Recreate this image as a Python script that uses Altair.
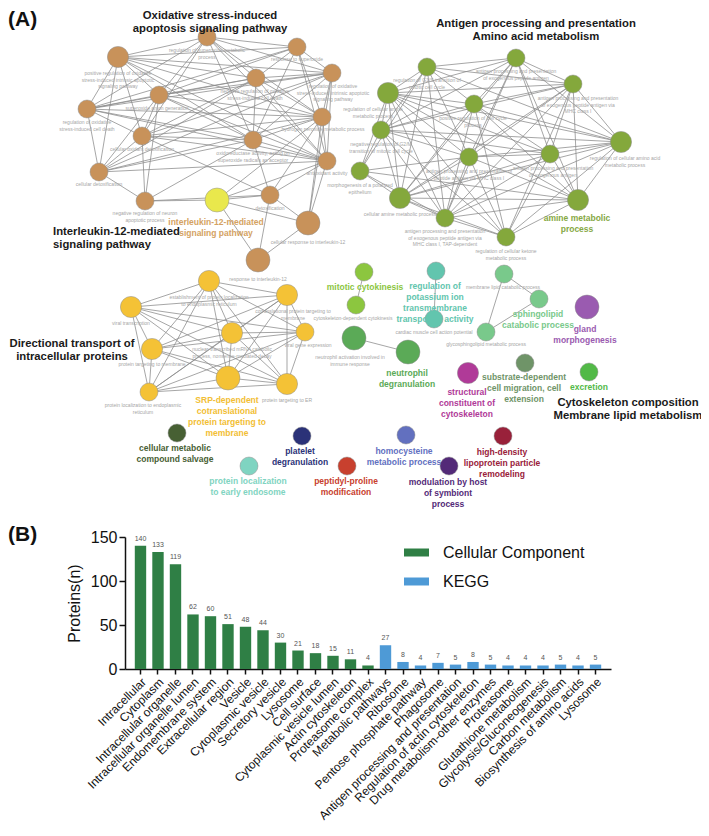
import json
import altair as alt
import pandas as pd

FONT = "Liberation Sans"

# ================= Panel A : enrichment network =================
# node layout coordinates (image pixels)
node_id = ["b0", "b1", "b2", "b3", "b4", "b5", "b6", "b7", "b8", "b9", "b10", "b11", "b12", "b13", "b14", "b15",
           "y0", "y1", "y2", "y3", "y4", "y5", "y6", "y7", "y8", "y9",
           "g0", "g1", "g2", "g3", "g4", "g5", "g6", "g7", "g8", "g9", "g10", "g11", "g12", "g13",
           "m0", "m1", "p0", "p1", "s0", "s1", "s2", "n0", "n1",
           "gland", "struct", "subst", "excr", "salv", "endo", "plat", "pept", "homo", "modu", "hdl"]
node_x = [207, 118, 297, 256, 332, 159, 87, 322, 142, 253, 327, 99, 145, 270, 308, 258,
          217, 209, 131, 287, 232, 305, 152, 228, 287, 149,
          516, 427, 388, 573, 474, 381, 621, 469, 550, 360, 400, 578, 445, 506,
          364, 356, 436, 434, 504, 539, 486, 354, 408,
          587, 468, 525, 589, 177, 249, 302, 347, 406, 449, 503]
node_y = [37, 57, 47, 78, 73, 95, 109, 117, 136, 140, 161, 172, 201, 195, 223, 260,
          200, 281, 307, 295, 333, 332, 349, 378, 384, 392,
          58, 67, 93, 84, 104, 130, 142, 157, 154, 171, 198, 200, 218, 237,
          272, 305, 271, 319, 274, 299, 332, 338, 352,
          307, 373, 363, 372, 433, 466, 436, 466, 435, 466, 436]
node_level = [1, 2, 1, 1, 1, 1, 1, 1, 1, 1, 1, 1, 1, 1, 3, 3,
              3, 2, 2, 2, 2, 1, 2, 3, 2, 1,
              1, 1, 2, 1, 1, 1, 2, 1, 1, 1, 2, 2, 1, 1,
              1, 1, 1, 1, 1, 1, 1, 3, 3,
              3, 2, 1, 1, 1, 1, 1, 1, 1, 1, 1]
node_group = ["oxid"] * 16 + ["il12"] + ["srp"] * 9 + ["amine"] * 14 + \
             ["mitotic", "mitotic", "potassium", "potassium", "sphingo", "sphingo", "sphingo", "neutro", "neutro",
              "gland", "struct", "subst", "excr", "salv", "endo", "plat", "pept", "homo", "modu", "hdl"]

group_color = {
    "oxid": "#C8925A", "il12": "#E9E84C", "srp": "#F4C236", "amine": "#84A83C",
    "mitotic": "#8CC63F", "potassium": "#62C5AE", "sphingo": "#79C98B", "neutro": "#5BAA57",
    "gland": "#9A5BB0", "struct": "#B03A98", "subst": "#6F9468", "excr": "#52B947",
    "salv": "#476033", "endo": "#7FD4C1", "plat": "#2B3278", "pept": "#C8402E",
    "homo": "#6270BF", "modu": "#532A78", "hdl": "#99213A",
}
label_color = dict(group_color)
label_color.update({"il12": "#D4A262", "srp": "#F2BE34", "amine": "#86A843"})

edge_list = (
    # oxidative stress cluster
    "b0-b1 b0-b2 b0-b3 b0-b4 b0-b5 b0-b6 b0-b7 b0-b8 b0-b9 b0-b10 "
    "b1-b2 b1-b3 b1-b4 b1-b5 b1-b6 b1-b7 b1-b8 b1-b9 b1-b10 b1-b11 "
    "b2-b3 b2-b4 b2-b5 b2-b6 b2-b7 b2-b9 b2-b10 "
    "b3-b4 b3-b5 b3-b6 b3-b7 b3-b8 b3-b9 b3-b10 b3-b11 "
    "b4-b5 b4-b6 b4-b7 b4-b8 b4-b9 b4-b10 b4-b11 "
    "b5-b6 b5-b7 b5-b8 b5-b9 b5-b10 b5-b11 b5-b12 "
    "b6-b7 b6-b8 b6-b9 b6-b10 b6-b11 "
    "b7-b8 b7-b9 b7-b10 b7-b11 b7-b13 "
    "b8-b9 b8-b10 b8-b11 b8-b12 b8-b13 "
    "b9-b10 b9-b11 b9-b12 b9-b13 b10-b11 b10-b13 b10-b14 b11-b12 "
    "b12-y0 b12-b13 b13-y0 b13-b14 b13-b15 y0-b14 y0-b15 y0-b7 y0-b10 b14-b15 b14-b7 b14-b4 "
    # translation cluster
    "y1-y2 y1-y3 y1-y4 y1-y5 y1-y6 y1-y7 y1-y8 y1-y9 y2-y3 y2-y4 y2-y5 y2-y6 y2-y7 y2-y8 y2-y9 "
    "y3-y4 y3-y5 y3-y6 y3-y7 y3-y8 y3-y9 y4-y5 y4-y6 y4-y7 y4-y8 y4-y9 y5-y6 y5-y7 y5-y8 y5-y9 "
    "y6-y7 y6-y8 y6-y9 y7-y8 y7-y9 y8-y9 "
    # antigen / amine cluster
    "g0-g1 g0-g2 g0-g3 g0-g4 g0-g5 g0-g6 g0-g7 g0-g8 g0-g10 g0-g12 g0-g11 "
    "g1-g2 g1-g3 g1-g4 g1-g5 g1-g6 g1-g7 g1-g10 g1-g12 g1-g9 "
    "g2-g3 g2-g4 g2-g5 g2-g6 g2-g7 g2-g8 g2-g9 g2-g10 g2-g12 g2-g13 g2-g11 "
    "g3-g4 g3-g5 g3-g6 g3-g7 g3-g8 g3-g10 g3-g11 g3-g12 g3-g13 "
    "g4-g5 g4-g6 g4-g8 g4-g10 g4-g12 g4-g13 g4-g11 "
    "g5-g6 g5-g7 g5-g8 g5-g9 g5-g10 g5-g12 g5-g13 "
    "g6-g7 g6-g8 g6-g10 g6-g11 g6-g12 g6-g13 "
    "g7-g8 g7-g9 g7-g10 g7-g11 g7-g12 g7-g13 "
    "g8-g10 g8-g11 g8-g12 g8-g13 g9-g10 g9-g12 g9-g11 g10-g11 g10-g12 g10-g13 g11-g12 g11-g13 g12-g13 "
    # small modules
    "m0-m1 p0-p1 s0-s1 s0-s2 s1-s2 n0-n1"
)

# small grey term labels
term_text = [
    "regulation of superoxide metabolic\nprocess",
    "positive regulation of oxidative\nstress-induced intrinsic apoptotic\nsignaling pathway",
    "response to superoxide",
    "negative regulation of oxidative\nstress-induced cell death",
    "regulation of oxidative\nstress-induced intrinsic apoptotic\nsignaling pathway",
    "superoxide anion generation",
    "regulation of oxidative\nstress-induced cell death",
    "hydrogen peroxide metabolic process",
    "cellular oxidant detoxification",
    "oxidoreductase activity, acting on\nsuperoxide radicals as acceptor",
    "antioxidant activity",
    "cellular detoxification",
    "negative regulation of neuron\napoptotic process",
    "detoxification",
    "cellular response to interleukin-12",
    "response to interleukin-12",
    "establishment of protein localization\nto endoplasmic reticulum",
    "viral transcription",
    "cotranslational protein targeting to\nmembrane",
    "nuclear-transcribed mRNA catabolic\nprocess, nonsense-mediated decay",
    "viral gene expression",
    "protein targeting to membrane",
    "protein targeting to ER",
    "protein localization to endoplasmic\nreticulum",
    "antigen processing and presentation\nof exogenous peptide antigen",
    "regulation of G1/S transition of\nmitotic cell cycle",
    "regulation of cellular amine\nmetabolic process",
    "antigen processing and presentation\nof exogenous peptide antigen via\nMHC class I",
    "positive regulation of cell cycle\nprocess",
    "negative regulation of G2/M\ntransition of mitotic cell cycle",
    "regulation of cellular amino acid\nmetabolic process",
    "antigen processing and presentation of\npeptide antigen via MHC class I",
    "antigen processing and presentation\nof exogenous antigen",
    "morphogenesis of a polarized\nepithelium",
    "cellular amine metabolic process",
    "antigen processing and presentation\nof exogenous peptide antigen via\nMHC class I, TAP-dependent",
    "regulation of cellular ketone\nmetabolic process",
    "cytoskeleton-dependent cytokinesis",
    "cardiac muscle cell action potential",
    "membrane lipid catabolic process",
    "glycosphingolipid metabolic process",
    "neutrophil activation involved in\nimmune response",
]
term_x = [207, 118, 297, 255, 333, 157, 87, 323, 142, 253, 327, 99, 145, 270, 308, 258,
          209, 131, 293, 232, 308, 152, 287, 143,
          516, 427, 373, 578, 473, 381, 625, 469, 553, 360, 400, 445, 506,
          353, 434, 503, 486, 350]
term_y = [50, 73, 59, 91, 86, 108, 122, 129, 149, 153, 173, 184, 213, 208, 242, 279,
          297, 323, 311, 349, 345, 364, 400, 405,
          71, 80, 109, 98, 118, 144, 158, 171, 168, 185, 214, 231, 251,
          318, 332, 287, 344, 357]

# bold coloured module labels
module_text = [
    "interleukin-12-mediated\nsignaling pathway",
    "SRP-dependent\ncotranslational\nprotein targeting to\nmembrane",
    "amine metabolic\nprocess",
    "mitotic cytokinesis",
    "regulation of\npotassium ion\ntransmembrane\ntransporter activity",
    "sphingolipid\ncatabolic process",
    "gland\nmorphogenesis",
    "neutrophil\ndegranulation",
    "structural\nconstituent of\ncytoskeleton",
    "substrate-dependent\ncell migration, cell\nextension",
    "excretion",
    "cellular metabolic\ncompound salvage",
    "platelet\ndegranulation",
    "protein localization\nto early endosome",
    "peptidyl-proline\nmodification",
    "homocysteine\nmetabolic process",
    "modulation by host\nof symbiont\nprocess",
    "high-density\nlipoprotein particle\nremodeling",
]
module_x = [216, 227, 577, 365, 435, 538, 585, 407, 467, 524, 589, 175, 300, 248, 346, 404, 448, 502]
module_y = [222, 400, 218, 287, 286, 314, 329, 373, 392, 377, 387, 448, 451, 481, 481, 451, 482, 452]
module_group = ["il12", "srp", "amine", "mitotic", "potassium", "sphingo", "gland", "neutro", "struct",
                "subst", "excr", "salv", "plat", "endo", "pept", "homo", "modu", "hdl"]

# bold black cluster titles
title_text = [
    "Oxidative stress-induced\napoptosis signaling pathway",
    "Antigen processing and presentation\nAmino acid metabolism",
    "Directional transport of\nintracellular proteins",
    "Cytoskeleton composition\nMembrane lipid metabolism",
]
title_x = [210, 536, 72, 628]
title_y = [16, 24, 344, 403]
left_title_text = ["Interleukin-12-mediated\nsignaling pathway"]
left_title_x = [53]
left_title_y = [232]

panel_text = ["(A)", "(B)"]
panel_x = [8, 8]
panel_y = [20, 535]

# ================= Panel B : bar chart =================
cc_terms = ["Intracellular", "Cytoplasm", "Intracellular organelle", "Intracellular organelle lumen",
            "Endomembrane system", "Extracellular region", "Vesicle", "Cytoplasmic vesicle",
            "Secretory vesicle", "Lysosome", "Cell surface", "Cytoplasmic vesicle lumen",
            "Actin cytoskeleton", "Proteasome complex"]
cc_counts = [140, 133, 119, 62, 60, 51, 48, 44, 30, 21, 18, 15, 11, 4]
kegg_terms = ["Metabolic pathways", "Ribosome", "Pentose phosphate pathway", "Phagosome",
              "Antigen processing and presentation", "Regulation of actin cytoskeleton",
              "Drug metabolism-other enzymes", "Proteasome", "Glutathione metabolism",
              "Glycolysis/Gluconeogenesis", "Carbon metabolism", "Biosynthesis of amino acids", "Lysosome"]
kegg_counts = [27, 8, 4, 7, 5, 8, 5, 4, 4, 4, 5, 4, 5]
y_ticks = [0, 50, 100, 150]
series_names = ["Cellular Component", "KEGG"]
series_colors = ["#2F7F45", "#4E9AD6"]

# ---------------- build tables ----------------
nodes = pd.DataFrame({"id": node_id, "x": node_x, "y": node_y, "level": node_level, "group": node_group})
nodes["color"] = nodes["group"].map(group_color)
pos = nodes.set_index("id")
edges = pd.DataFrame([e.split("-") for e in edge_list.split()], columns=["a", "b"])
edges["x"] = edges["a"].map(pos["x"])
edges["y"] = edges["a"].map(pos["y"])
edges["x2"] = edges["b"].map(pos["x"])
edges["y2"] = edges["b"].map(pos["y"])

terms = pd.DataFrame({"t": term_text, "x": term_x, "y": term_y})
modules = pd.DataFrame({"t": module_text, "x": module_x, "y": module_y, "group": module_group})
modules["color"] = modules["group"].map(label_color)
titles = pd.DataFrame({"t": title_text, "x": title_x, "y": title_y})
ltitles = pd.DataFrame({"t": left_title_text, "x": left_title_x, "y": left_title_y})
panels = pd.DataFrame({"t": panel_text, "x": panel_x, "y": panel_y})

all_terms = cc_terms + kegg_terms
bars = pd.DataFrame({
    "idx": list(range(len(all_terms))),
    "term": all_terms,
    "count": cc_counts + kegg_counts,
    "series": [series_names[0]] * len(cc_terms) + [series_names[1]] * len(kegg_terms),
})

W, H = 693, 820
XS = alt.Scale(domain=[8, 8 + W], range=[0, W], nice=False, zero=False)
YS = alt.Scale(domain=[8, 8 + H], range=[0, H], nice=False, zero=False)


def xy(df):
    return alt.Chart(df).encode(
        x=alt.X("x:Q", scale=XS, axis=None),
        y=alt.Y("y:Q", scale=YS, axis=None),
    )


edge_layer = alt.Chart(edges).mark_rule(color="#8a8a8a", strokeWidth=0.9, opacity=0.85).encode(
    x=alt.X("x:Q", scale=XS, axis=None), y=alt.Y("y:Q", scale=YS, axis=None),
    x2="x2:Q", y2="y2:Q")

term_layer = xy(terms).mark_text(font=FONT, fontSize=5, lineHeight=6.5, color="#a6a6a6",
                                 align="center", baseline="middle", lineBreak="\n").encode(text="t:N")

node_layer = xy(nodes).mark_circle(opacity=1, stroke="#8f8f8f", strokeWidth=0.5).encode(
    color=alt.Color("color:N", scale=None),
    size=alt.Size("level:O", scale=alt.Scale(domain=[1, 2, 3], range=[324, 576, 900]), legend=None),
)

module_layer = xy(modules).mark_text(font=FONT, fontSize=8.5, fontWeight="bold", lineHeight=11,
                                     align="center", baseline="middle", lineBreak="\n").encode(
    text="t:N", color=alt.Color("color:N", scale=None))

title_layer = xy(titles).mark_text(font=FONT, fontSize=11.3, fontWeight="bold", lineHeight=13.3,
                                   color="#1a1a1a", align="center", baseline="middle",
                                   lineBreak="\n").encode(text="t:N")
ltitle_layer = xy(ltitles).mark_text(font=FONT, fontSize=11.3, fontWeight="bold", lineHeight=13.3,
                                     color="#1a1a1a", align="left", baseline="middle",
                                     lineBreak="\n").encode(text="t:N")
panel_layer = xy(panels).mark_text(font=FONT, fontSize=21, fontWeight="bold", color="#111111",
                                   align="left", baseline="middle").encode(text="t:N")

network = alt.layer(edge_layer, term_layer, node_layer, module_layer, title_layer, ltitle_layer, panel_layer)

# bar chart placed with its own scales inside the same canvas
label_expr = json.dumps(all_terms) + "[datum.value]"
bx = alt.X("idx:O", title=None,
           scale=alt.Scale(range=[125 - 8, 611 - 8], paddingInner=0.35, paddingOuter=0.56),
           axis=alt.Axis(labelExpr=label_expr, labelAngle=-45, labelAlign="right", labelBaseline="top",
                         labelFont=FONT, labelFontSize=12, labelColor="#111111", labelLimit=400,
                         labelPadding=2, tickSize=5, tickWidth=1.5, tickColor="#111111",
                         domainColor="#111111", domainWidth=1.5, grid=False, offset=-(H - (669 - 8))))
by = alt.Y("count:Q", title="Proteins(n)",
           scale=alt.Scale(domain=[0, 150], range=[669 - 8, 537 - 8], nice=False, zero=True),
           axis=alt.Axis(values=y_ticks, labelFont=FONT, labelFontSize=16, labelColor="#111111",
                         labelPadding=2, tickSize=6, tickWidth=1.5, tickColor="#111111",
                         domainColor="#111111", domainWidth=1.5, grid=False,
                         titleFont=FONT, titleFontSize=16, titleFontWeight="normal",
                         titleColor="#111111", titlePadding=8, offset=-(125 - 8)))
base = alt.Chart(bars).encode(x=bx, y=by)
bar_layer = base.mark_bar().encode(
    color=alt.Color("series:N", scale=alt.Scale(domain=series_names, range=series_colors),
                    legend=alt.Legend(orient="none", legendX=396, legendY=532, title=None,
                                      direction="vertical", symbolType="M-1,-0.32H1V0.32H-1Z",
                                      symbolSize=625, symbolStrokeWidth=0, symbolOpacity=1,
                                      labelFont=FONT, labelFontSize=16, labelColor="#111111",
                                      labelOffset=14, rowPadding=8, padding=0)))
value_layer = base.mark_text(font=FONT, fontSize=7, color="#555555", baseline="bottom", dy=-4).encode(
    text="count:Q")
barchart = alt.layer(bar_layer, value_layer)

chart = alt.layer(network, barchart).resolve_scale(
    x="independent", y="independent", color="independent", size="independent"
).properties(
    width=W, height=H, padding=0, autosize=alt.AutoSizeParams(type="none"),
    background="white",
).configure_view(stroke=None)

chart.save("out.html", embed_options={"renderer": "svg", "actions": False})
